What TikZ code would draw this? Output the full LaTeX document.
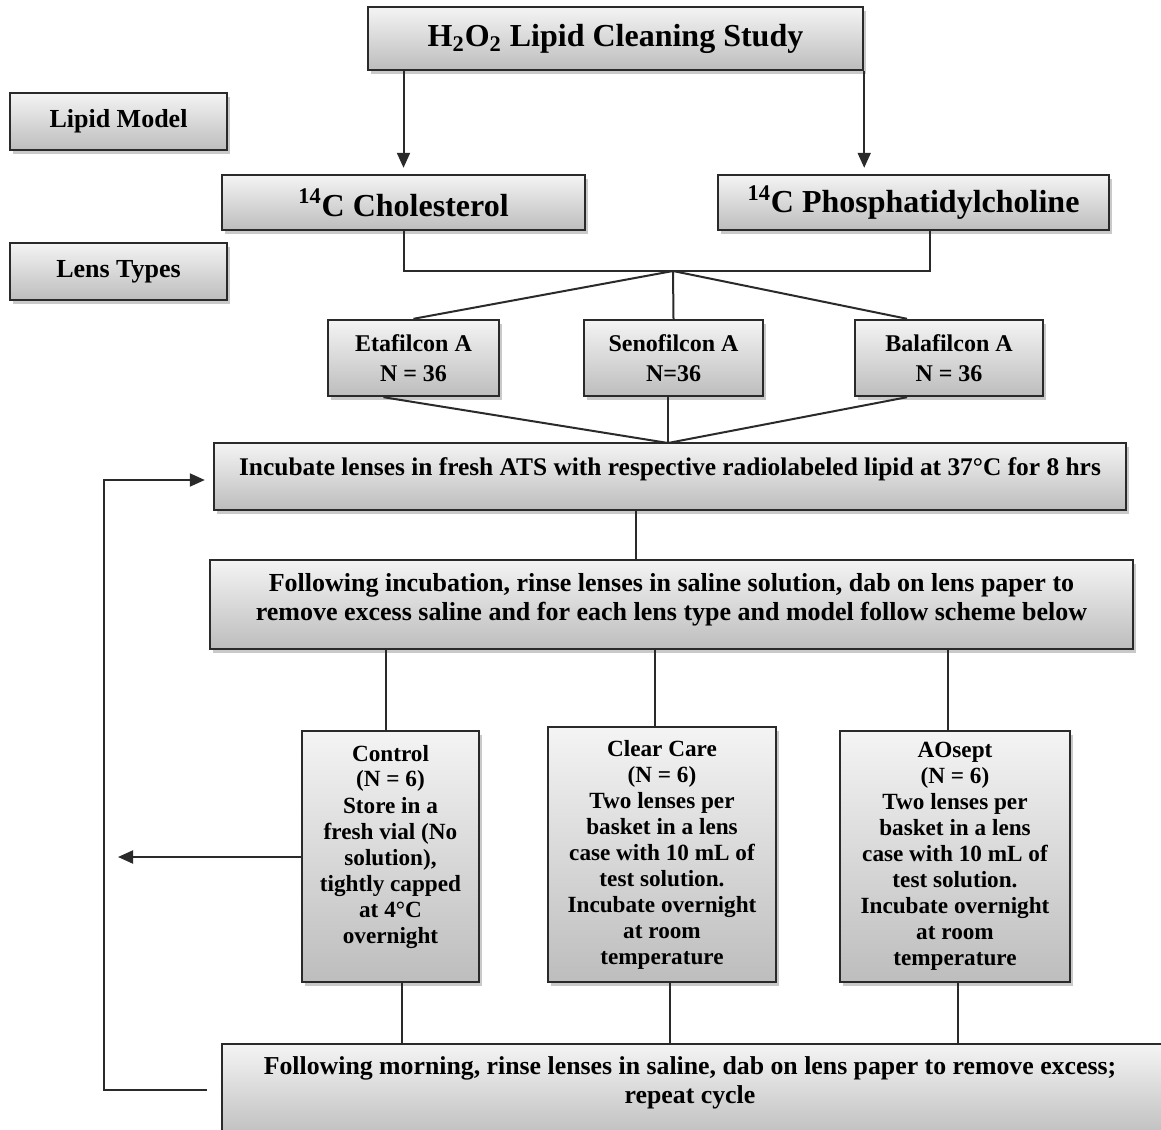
\documentclass[tikz,border=0pt]{standalone}
\usepackage{fontspec}
\setmainfont{Liberation Serif}
\usetikzlibrary{shadows,arrows.meta,calc}
\definecolor{boxtop}{HTML}{F4F4F4}
\definecolor{boxbot}{HTML}{BDBDBD}
\definecolor{edge}{HTML}{2A2A2A}
\tikzset{
  box/.style={draw=edge, line width=1.2pt, top color=boxtop, bottom color=boxbot,
    drop shadow={shadow xshift=1.5pt, shadow yshift=-2pt, opacity=0.3, fill=black!70},
    align=center, inner sep=2pt},
  txt/.style={align=center, inner sep=0pt},
  link/.style={draw=edge, line width=1pt},
  arr/.style={link, -{Triangle[length=7.5pt,width=6.5pt]}},
  fsA/.style={font=\bfseries\fontsize{16}{19}\selectfont},
  fsB/.style={font=\bfseries\fontsize{13}{15}\selectfont},
  fsC/.style={font=\bfseries\fontsize{16}{19}\selectfont},
  fsD/.style={font=\bfseries\fontsize{12}{15}\selectfont},
  fsE/.style={font=\bfseries\fontsize{12.7}{15}\selectfont},
  fsF/.style={font=\bfseries\fontsize{13}{14.5}\selectfont},
  fsH/.style={font=\bfseries\fontsize{12.9}{14.5}\selectfont},
  fsG/.style={font=\bfseries\fontsize{11.6}{13}\selectfont},
}
\begin{document}
\begin{tikzpicture}[x=0.5pt, y=-0.5pt]
\useasboundingbox (0,0) rectangle (1161,1129);

% headline and side labels
\node[box, fsA, minimum width=247.5pt, minimum height=31.5pt] (title) at (615.5,38.5)
  {H\textsubscript{2}O\textsubscript{2} Lipid Cleaning Study};
\node[box, fsB, minimum width=108.5pt, minimum height=28.5pt] (lipid) at (118.5,121.5) {Lipid Model};
\node[box, fsB, minimum width=108.5pt, minimum height=28.5pt] (lens) at (118.5,271.5) {Lens Types};

% lipid models
\node[box, fsC, minimum width=181.5pt, minimum height=27.5pt] (chol) at (403.5,202.5)
  {\textsuperscript{14}C Cholesterol};
\node[box, fsC, minimum width=195.5pt, minimum height=27.5pt] (phos) at (913.5,202.5)
  {\textsuperscript{14}C Phosphatidylcholine};

% lens materials
\node[box, fsD, minimum width=85.5pt, minimum height=38pt] (eta) at (413.5,358) {Etafilcon A\\N = 36};
\node[box, fsD, minimum width=89.5pt, minimum height=38pt] (seno) at (673.5,358) {Senofilcon A\\N=36};
\node[box, fsD, minimum width=94pt, minimum height=38pt] (bala) at (949,358) {Balafilcon A\\N = 36};

% process steps
\node[box, minimum width=456pt, minimum height=33.5pt] (incub) at (670,476.5) {};
\node[txt, fsE] (incubtxt) at ([yshift=3.5pt]incub.center)
  {Incubate lenses in fresh ATS with respective radiolabeled lipid at 37°C for 8 hrs};
\node[box, minimum width=461.5pt, minimum height=44.5pt] (follow) at (671.5,604.5) {};
\node[txt, fsF] (followtxt) at ([yshift=2.5pt]follow.center)
  {Following incubation, rinse lenses in saline solution, dab on lens paper to\\
   remove excess saline and for each lens type and model follow scheme below};

% storage regimes
\node[box, minimum width=88.5pt, minimum height=125.5pt] (control) at (390.5,856.5) {};
\node[txt, fsG] (controltxt) at ([yshift=5pt]control.center)
  {Control\\(N = 6)\\Store in a\\fresh vial (No\\solution),\\tightly capped\\at 4°C\\overnight};
\node[box, fsG, minimum width=114pt, minimum height=127.5pt] (clear) at (662,854.5)
  {Clear Care\\(N = 6)\\Two lenses per\\basket in a lens\\case with 10 mL of\\test solution.\\Incubate overnight\\at room\\temperature};
\node[box, fsG, minimum width=115pt, minimum height=125.5pt] (aosept) at (955,856.5)
  {AOsept\\(N = 6)\\Two lenses per\\basket in a lens\\case with 10 mL of\\test solution.\\Incubate overnight\\at room\\temperature};

% closing step, running off the lower edge
\node[box, minimum width=470pt, minimum height=48pt] (bottom) at (692,1092) {};
\node[txt, fsH] (bottomtxt) at (690,1083)
  {Following morning, rinse lenses in saline, dab on lens paper to remove excess;\\repeat cycle};

% connectors
\draw[arr, shorten >=3pt] (title.south -| chol.north) -- (chol.north);
\draw[arr, shorten >=3pt] (title.south east) -- (title.south east |- phos.north);

\coordinate (hub) at (673,271);
\draw[link] (chol.south) |- (hub) -| ([xshift=8]phos.south);
\draw[link] (hub) -- (eta.north);
\draw[link] (hub) -- (seno.north);
\draw[link] (hub) -- ([xshift=-21]bala.north);

\coordinate (hub2) at (668,443);
\draw[link] ([xshift=-15]eta.south) -- (hub2);
\draw[link] (seno.south -| hub2) -- (hub2);
\draw[link] ([xshift=-21]bala.south) -- (hub2);

\draw[link] (incub.south -| 636,0) -- (follow.north -| 636,0);

\draw[link] (follow.south -| 386,0) -- (control.north -| 386,0);
\draw[link] (follow.south -| 655,0) -- (clear.north -| 655,0);
\draw[link] (follow.south -| 948,0) -- (aosept.north -| 948,0);

\draw[link] (control.south -| 402,0) -- (bottom.north -| 402,0);
\draw[link] (clear.south -| 670,0) -- (bottom.north -| 670,0);
\draw[link] (aosept.south -| 958,0) -- (bottom.north -| 958,0);

% repeat loop back to incubation
\coordinate (loopbot) at (104,1090);
\coordinate (looptop) at (104,480);
\draw[arr, shorten >=4pt] ([xshift=-7]bottom.west |- loopbot) -- (loopbot) -- (looptop) -- (incub.west |- looptop);

% control exit
\coordinate (ctrlout) at (118,857);
\draw[arr] (control.west |- ctrlout) -- (ctrlout);
\end{tikzpicture}
\end{document}
